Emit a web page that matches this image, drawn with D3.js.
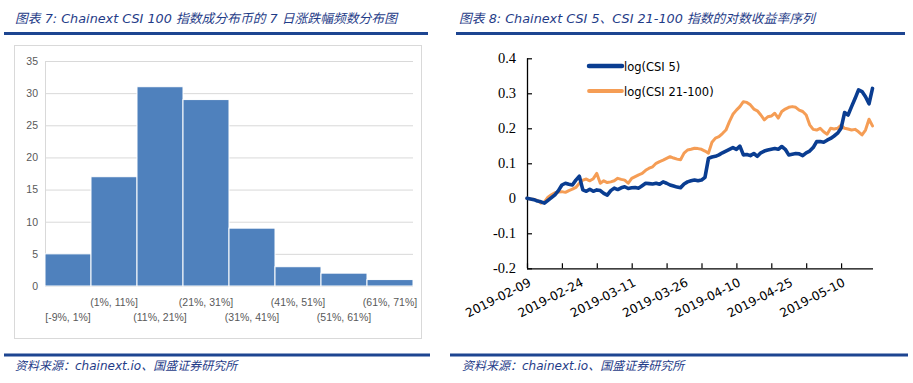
<!DOCTYPE html>
<html><head><meta charset="utf-8">
<script src="https://cdn.jsdelivr.net/npm/d3@7"></script>
<style>
body{margin:0;background:#fff;}
svg{display:block;}
</style></head><body>
<svg id="c" width="913" height="383"></svg>
<script>
// ---------- data ----------
const histCategories = ["[-9%, 1%]","(1%, 11%]","(11%, 21%]","(21%, 31%]","(31%, 41%]","(41%, 51%]","(51%, 61%]","(61%, 71%]"];
const histCounts = [5,17,31,29,9,3,2,1];
const histYTicks = [0,5,10,15,20,25,30,35];

const lineStartDate = "2019-02-09";
const csi5 = [0,-0.002,-0.004,-0.008,-0.01,-0.014,-0.006,0.002,0.01,0.022,
0.038,0.043,0.04,0.038,0.052,0.063,0.024,0.02,0.026,0.02,
0.024,0.022,0.014,0.009,0.022,0.029,0.025,0.03,0.033,0.028,
0.03,0.031,0.029,0.036,0.043,0.042,0.041,0.043,0.04,0.047,
0.043,0.038,0.035,0.032,0.03,0.041,0.047,0.05,0.052,0.05,
0.052,0.06,0.114,0.118,0.12,0.124,0.13,0.135,0.14,0.145,
0.14,0.149,0.124,0.125,0.122,0.128,0.12,0.13,0.135,0.138,
0.14,0.142,0.14,0.148,0.14,0.124,0.126,0.128,0.127,0.122,
0.13,0.135,0.145,0.162,0.162,0.16,0.166,0.171,0.178,0.186,
0.2,0.245,0.238,0.262,0.285,0.31,0.305,0.29,0.27,0.314];
const csi21_100 = [0,-0.002,-0.003,-0.006,-0.014,-0.01,0.003,0.01,0.016,0.018,
0.019,0.017,0.022,0.026,0.031,0.043,0.052,0.055,0.05,0.056,
0.071,0.043,0.05,0.045,0.047,0.05,0.057,0.054,0.052,0.043,
0.057,0.062,0.067,0.071,0.08,0.086,0.09,0.1,0.105,0.109,
0.114,0.119,0.115,0.112,0.11,0.129,0.138,0.14,0.143,0.142,
0.14,0.135,0.129,0.16,0.172,0.176,0.185,0.195,0.219,0.24,
0.252,0.262,0.276,0.274,0.267,0.255,0.25,0.238,0.224,0.233,
0.235,0.243,0.229,0.248,0.255,0.26,0.262,0.26,0.252,0.248,
0.238,0.21,0.197,0.195,0.2,0.19,0.183,0.2,0.198,0.2,
0.209,0.2,0.198,0.195,0.197,0.19,0.181,0.195,0.226,0.207];
const lineYTicks = [-0.2,-0.1,0,0.1,0.2,0.3,0.4];
const lineXTickLabels = ["2019-02-09","2019-02-24","2019-03-11","2019-03-26","2019-04-10","2019-04-25","2019-05-10"];
const seriesNames = ["log(CSI 5)","log(CSI 21-100)"];
const chartTitles = ["图表 7:  Chainext CSI 100 指数成分布币的 7 日涨跌幅频数分布图","图表 8:  Chainext CSI 5、CSI 21-100 指数的对数收益率序列"];
const sourceText = "资料来源：chainext.io、国盛证券研究所";

// ---------- drawing ----------
const svg = d3.select("#c");
const titleColor = "#1f3c88";
const ruleColor = "#1d4591";

// titles and rules
const titleX = [15, 459];
chartTitles.forEach((t,i)=>{
  svg.append("text").attr("x", titleX[i]).attr("y", 23)
    .attr("font-family","'DejaVu Sans','Noto Sans CJK SC',sans-serif")
    .attr("font-style","italic").attr("font-size","12.8px")
    .attr("fill", titleColor).text(t);
});
[[4,428],[456,905]].forEach(([a,b])=>{
  svg.append("rect").attr("x",a).attr("y",32).attr("width",b-a).attr("height",3).attr("fill",ruleColor);
});
[[4,430],[450,908]].forEach(([a,b])=>{
  svg.append("rect").attr("x",a).attr("y",353.5).attr("width",b-a).attr("height",3).attr("fill",ruleColor);
});
[15, 462].forEach(x=>{
  svg.append("text").attr("x",x).attr("y",370)
    .attr("font-family","'DejaVu Sans','Noto Sans CJK SC',sans-serif")
    .attr("font-style","italic").attr("font-size","12px")
    .attr("fill",titleColor).text(sourceText);
});

// ----- histogram -----
svg.append("rect").attr("x",14.5).attr("y",45.5).attr("width",407).attr("height",293)
  .attr("fill","#fff").attr("stroke","#d9d9d9").attr("stroke-width",1);

const hx = d3.scaleBand().domain(histCategories).range([45,413]).paddingInner(0).paddingOuter(0);
const hy = d3.scaleLinear().domain([0,35]).range([286,61]);
const hg = svg.append("g");
hg.selectAll("line.grid").data(histYTicks).join("line").attr("class","grid")
  .attr("x1",45).attr("x2",413).attr("y1",d=>hy(d)+0.5).attr("y2",d=>hy(d)+0.5)
  .attr("stroke","#d9d9d9").attr("stroke-width",1);
hg.append("line").attr("x1",45.5).attr("x2",45.5).attr("y1",hy(35)).attr("y2",hy(0))
  .attr("stroke","#d9d9d9");
hg.selectAll("rect.bar").data(histCounts).join("rect").attr("class","bar")
  .attr("x",(d,i)=>hx(histCategories[i]))
  .attr("width",hx.bandwidth())
  .attr("y",d=>hy(d)).attr("height",d=>hy(0)-hy(d))
  .attr("fill","#4f81bd").attr("stroke","#fff").attr("stroke-width",1);
const hAxis = d3.axisLeft(hy).tickValues(histYTicks).tickSize(0).tickPadding(7);
const hya = hg.append("g").attr("transform","translate(45,0)").call(hAxis);
hya.select(".domain").remove();
hya.selectAll("text").attr("font-family","'Liberation Sans Narrow','Liberation Sans',sans-serif")
  .attr("font-size","10.5px").attr("fill","#595959");
const hxa = hg.append("g").attr("transform","translate(0,286)")
  .call(d3.axisBottom(hx).tickSize(0).tickPadding(0));
hxa.select(".domain").remove();
hxa.selectAll("text").attr("font-family","'Liberation Sans Narrow','Liberation Sans',sans-serif")
  .attr("font-size","10.5px").attr("fill","#595959")
  .attr("dy",null)
  .attr("y",(d,i)=> i%2===1 ? 20 : 35);

// ----- line chart -----
const parse = d3.utcParse("%Y-%m-%d");
const start = parse(lineStartDate);
const dates = d3.utcDay.range(start, d3.utcDay.offset(start, csi5.length));
const lx = d3.scaleUtc().domain([dates[0], dates[dates.length-1]]).range([527, 872.5]);
const ly = d3.scaleLinear().domain([-0.2,0.4]).range([268.3,58.3]);
const lg = svg.append("g");

const tickDates = d3.utcDay.range(dates[0], dates[dates.length-1], 10);
const xa = lg.append("g").attr("transform",`translate(0,${ly(-0.2)})`)
  .call(d3.axisBottom(lx).tickValues(tickDates).tickSize(-5).tickFormat(""));
xa.select(".domain").attr("d",`M527,0.5H873`).attr("stroke","#000").attr("stroke-width",1.3);
xa.selectAll(".tick line").attr("stroke","#000").attr("stroke-width",1.2);

const ya = lg.append("g").attr("transform","translate(527,0)")
  .call(d3.axisLeft(ly).tickValues(lineYTicks).tickSize(-5).tickPadding(11)
    .tickFormat(d=> d===0 ? "0" : d.toFixed(1)));
ya.select(".domain").attr("d",`M0.5,${ly(0.4)}V${ly(-0.2)}`).attr("stroke","#000").attr("stroke-width",1.3);
ya.selectAll(".tick line").attr("stroke","#000").attr("stroke-width",1.2);
ya.selectAll("text").attr("font-family","'Liberation Serif','DejaVu Serif',serif")
  .attr("font-size","14.5px").attr("fill","#000");

// rotated x labels
lg.selectAll("text.xl").data(lineXTickLabels).join("text").attr("class","xl")
  .attr("transform",d=>`translate(${lx(parse(d))+5},${ly(-0.2)+17}) rotate(-27)`)
  .attr("text-anchor","end")
  .attr("font-family","'DejaVu Sans',sans-serif").attr("font-size","12.3px").attr("fill","#000")
  .text(d=>d);

const lineGen = d3.line().x((d,i)=>lx(dates[i])).y(d=>ly(d));
const seriesData = [csi21_100, csi5];
const seriesColors = ["#f59d55","#0a3d91"];
const seriesWidths = [3,3.6];
seriesData.forEach((s,k)=>{
  lg.append("path").datum(s).attr("d",lineGen).attr("fill","none")
    .attr("stroke",seriesColors[k]).attr("stroke-width",seriesWidths[k])
    .attr("stroke-linejoin","round").attr("stroke-linecap","round");
});

// legend
const legendColors = ["#0a3d91","#f59d55"];
const legendY = [66, 91];
seriesNames.forEach((n,i)=>{
  lg.append("line").attr("x1",589).attr("x2",622).attr("y1",legendY[i]).attr("y2",legendY[i])
    .attr("stroke",legendColors[i]).attr("stroke-width",i===0?4.5:3.8).attr("stroke-linecap","round");
  lg.append("text").attr("x",624).attr("y",legendY[i]+4.5)
    .attr("font-family","'DejaVu Sans',sans-serif").attr("font-size","11.5px").attr("fill","#000")
    .text(n);
});
</script>
</body></html>
